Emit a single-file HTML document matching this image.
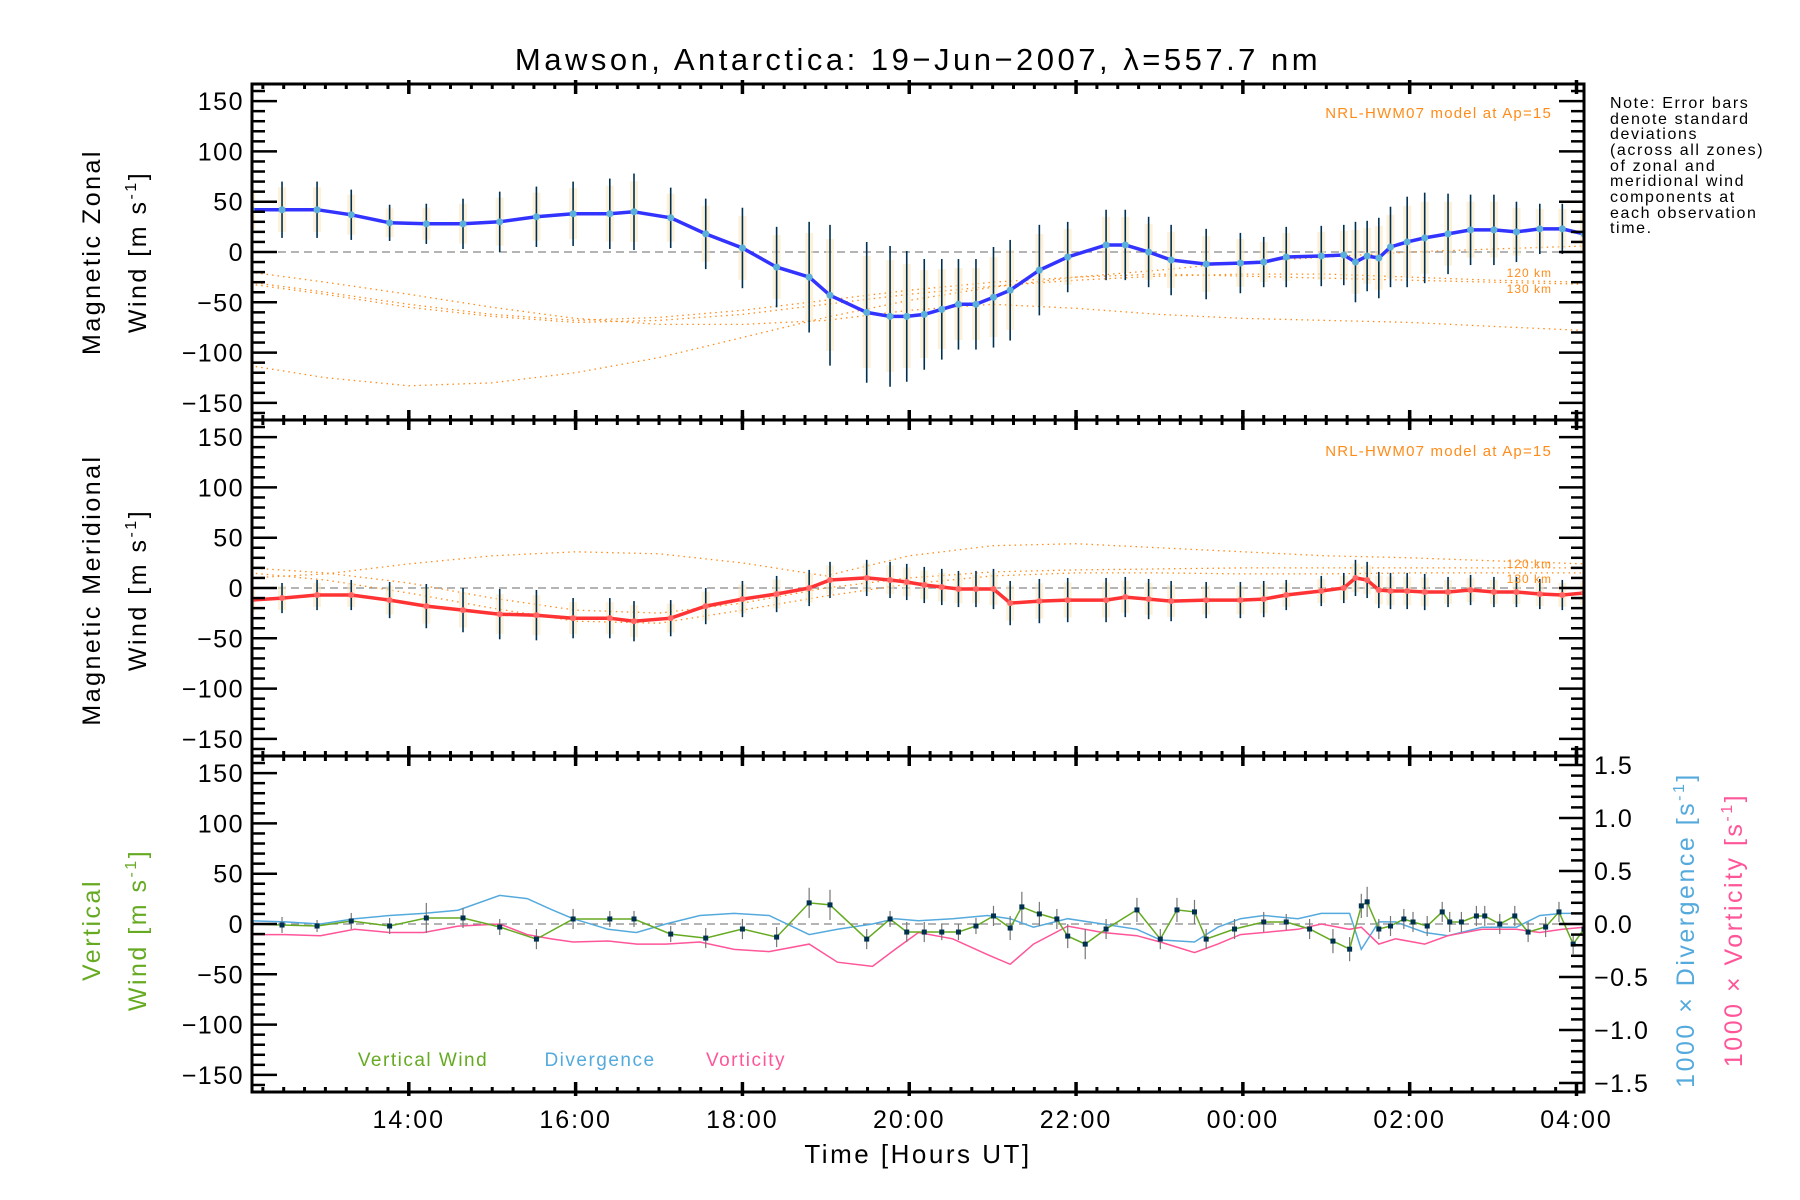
<!DOCTYPE html>
<html><head><meta charset="utf-8"><style>
html,body{margin:0;padding:0;background:#fff;}
svg{display:block;font-family:"Liberation Sans",sans-serif;}
</style></head><body>
<svg id="chart" width="1800" height="1200" viewBox="0 0 1800 1200" xmlns="http://www.w3.org/2000/svg">
<text x="918" y="70" font-size="31" letter-spacing="3.5" text-anchor="middle">Mawson, Antarctica: 19−Jun−2007, λ=557.7 nm</text>
<g font-size="16" letter-spacing="1.6" fill="#000">
<text x="1610" y="108">Note: Error bars</text>
<text x="1610" y="124">denote standard</text>
<text x="1610" y="139">deviations</text>
<text x="1610" y="155">(across all zones)</text>
<text x="1610" y="171">of zonal and</text>
<text x="1610" y="186">meridional wind</text>
<text x="1610" y="202">components at</text>
<text x="1610" y="218">each observation</text>
<text x="1610" y="233">time.</text>
</g>
<text x="918" y="1163" font-size="26" letter-spacing="2.5" text-anchor="middle">Time [Hours UT]</text>
<g font-size="25" letter-spacing="2.5" text-anchor="middle">
<text transform="translate(100,252) rotate(-90)">Magnetic Zonal</text>
<text transform="translate(146,252) rotate(-90)">Wind [m s<tspan font-size="16" dy="-10">-1</tspan><tspan dy="10">]</tspan></text>
</g>
<g font-size="25" letter-spacing="2.5" text-anchor="middle">
<text transform="translate(100,590) rotate(-90)">Magnetic Meridional</text>
<text transform="translate(146,590) rotate(-90)">Wind [m s<tspan font-size="16" dy="-10">-1</tspan><tspan dy="10">]</tspan></text>
</g>
<g font-size="25" letter-spacing="2.5" text-anchor="middle" fill="#66aa22">
<text transform="translate(100,930) rotate(-90)">Vertical</text>
<text transform="translate(146,930) rotate(-90)">Wind [m s<tspan font-size="16" dy="-10">-1</tspan><tspan dy="10">]</tspan></text>
</g>
<text transform="translate(1694,930) rotate(-90)" font-size="25" letter-spacing="2.5" text-anchor="middle" fill="#55aadd">1000 × Divergence [s<tspan font-size="16" dy="-10">-1</tspan><tspan dy="10">]</tspan></text>
<text transform="translate(1742,930) rotate(-90)" font-size="25" letter-spacing="2.5" text-anchor="middle" fill="#ff5599">1000 × Vorticity [s<tspan font-size="16" dy="-10">-1</tspan><tspan dy="10">]</tspan></text>
<text x="423" y="1066" font-size="19" letter-spacing="1.5" text-anchor="middle" fill="#66aa22">Vertical Wind</text>
<text x="600" y="1066" font-size="19" letter-spacing="1.5" text-anchor="middle" fill="#55aadd">Divergence</text>
<text x="746" y="1066" font-size="19" letter-spacing="1.5" text-anchor="middle" fill="#ff5599">Vorticity</text>
</svg>
<script>
// ---- data ----
const obsTimes=[12.11,12.48,12.90,13.31,13.77,14.21,14.65,15.09,15.53,15.97,16.41,16.70,17.14,17.56,18.00,18.41,18.80,19.05,19.49,19.77,19.97,20.18,20.39,20.59,20.80,21.01,21.21,21.56,21.90,22.36,22.59,22.87,23.14,23.56,23.97,24.25,24.52,24.94,25.21,25.35,25.49,25.63,25.77,25.97,26.18,26.46,26.73,27.01,27.28,27.56,27.83,28.09];
const zonalWind=[42,42,42,37,29,28,28,30,35,38,38,40,34,18,4,-15,-25,-43,-60,-64,-64,-62,-57,-52,-52,-45,-38,-18,-5,7,7,0,-8,-12,-11,-10,-5,-4,-3,-10,-4,-6,5,10,14,18,22,22,20,23,23,18];
const zonalErr=[25,28,28,25,18,20,25,30,30,32,35,38,30,35,40,40,55,70,70,70,65,55,50,45,45,50,50,45,35,35,35,35,35,35,30,25,30,30,30,40,35,40,40,45,45,40,35,35,30,25,25,25];
const meridWind=[-12,-10,-7,-7,-12,-18,-22,-26,-27,-30,-30,-33,-30,-18,-11,-6,0,8,10,8,6,3,1,-1,-1,-1,-15,-13,-12,-12,-9,-11,-13,-12,-12,-11,-7,-3,0,10,8,-2,-3,-3,-4,-4,-2,-4,-4,-6,-7,-5];
const meridErr=[15,15,15,15,18,22,22,25,25,20,20,20,18,18,18,18,18,18,18,18,18,18,18,18,18,20,22,22,22,22,20,20,20,18,18,18,15,15,15,18,18,18,18,18,18,15,15,15,15,15,15,15];
const modelTimes=[12.1,13,14,15,16,17,18,19,20,21,22,23,24,25,26,27,28.1];
const zonalModel1=[-30,-40,-52,-62,-68,-65,-58,-48,-38,-30,-25,-22,-24,-26,-28,-30,-32];
const zonalModel2=[-20,-30,-42,-55,-66,-72,-72,-68,-58,-52,-56,-62,-66,-68,-70,-74,-78];
const zonalModel3=[-113,-125,-133,-130,-120,-105,-85,-65,-48,-35,-25,-18,-10,-5,0,3,6];
const zonalModel4=[-32,-42,-55,-64,-70,-68,-62,-52,-42,-34,-28,-24,-22,-22,-25,-28,-30];
const meridModel1=[20,15,5,-10,-22,-25,-15,0,10,16,18,19,20,20,20,20,20];
const meridModel2=[10,14,24,32,36,34,25,12,32,42,44,40,36,32,30,27,24];
const meridModel3=[15,8,-5,-20,-33,-35,-22,-8,4,12,15,15,14,14,15,15,15];
const vertTimes=[12.11,12.48,12.90,13.31,13.77,14.21,14.65,15.09,15.53,15.97,16.41,16.70,17.14,17.56,18.00,18.41,18.80,19.05,19.49,19.77,19.97,20.18,20.39,20.59,20.80,21.01,21.21,21.35,21.56,21.77,21.90,22.11,22.36,22.73,23.01,23.21,23.42,23.56,23.90,24.25,24.52,24.80,25.08,25.28,25.42,25.49,25.63,25.77,25.93,26.04,26.21,26.39,26.48,26.62,26.80,26.90,27.08,27.26,27.42,27.63,27.79,27.96,28.09];
const vertWind=[0,-1,-2,3,-2,6,6,-3,-15,5,5,5,-10,-14,-5,-13,21,19,-15,5,-8,-8,-8,-8,-2,8,-4,17,10,5,-12,-20,-5,14,-15,14,12,-15,-5,2,2,-5,-17,-25,18,22,-5,-2,5,2,-2,12,2,2,8,8,0,8,-8,-3,12,-20,-5];
const vertErr=[5,8,6,8,8,15,10,8,10,10,8,8,8,10,10,10,15,15,10,8,10,10,8,8,8,10,12,15,12,10,12,15,10,12,10,12,12,10,10,10,8,10,12,12,12,15,10,10,10,10,10,10,10,10,10,10,10,10,10,10,10,10,10];
const curlTimes=[12.11,12.52,12.94,13.35,13.77,14.18,14.59,15.09,15.42,15.70,15.97,16.39,16.73,17.08,17.49,17.90,18.32,18.80,19.14,19.56,19.83,20.11,20.52,20.94,21.21,21.49,21.90,22.32,22.73,23.01,23.42,23.70,23.97,24.25,24.66,24.94,25.28,25.42,25.63,25.83,26.18,26.46,26.87,27.28,27.56,27.83,28.09];
const divergence=[0.03,0.02,0,0.05,0.08,0.10,0.13,0.27,0.24,0.14,0.05,-0.05,-0.08,0,0.08,0.10,0.08,-0.10,-0.05,0,0.05,0.03,0.05,0.08,0.05,-0.03,0.05,0,-0.05,-0.15,-0.17,-0.03,0.05,0.08,0.05,0.10,0.10,-0.24,0.02,0.02,-0.08,-0.11,-0.03,-0.03,0.08,0.10,0.10];
const vorticity=[-0.10,-0.10,-0.11,-0.05,-0.08,-0.08,-0.02,0,-0.10,-0.14,-0.17,-0.16,-0.19,-0.19,-0.17,-0.24,-0.26,-0.19,-0.36,-0.40,-0.24,-0.08,-0.14,-0.29,-0.38,-0.19,-0.02,-0.08,-0.11,-0.17,-0.27,-0.19,-0.10,-0.08,-0.05,0,-0.05,-0.03,-0.19,-0.14,-0.19,-0.11,-0.05,-0.05,-0.08,-0.05,-0.03];
const yTicks=[-150,-100,-50,0,50,100,150];
const yTickLabels=["−150","−100","−50","0","50","100","150"];
const rTicks=[-1.5,-1,-0.5,0,0.5,1,1.5];
const rTickLabels=["−1.5","−1.0","−0.5","0.0","0.5","1.0","1.5"];
const xTicks=[14,16,18,20,22,24,26,28];
const xTickLabels=["14:00","16:00","18:00","20:00","22:00","00:00","02:00","04:00"];

// ---- layout ----
const NS="http://www.w3.org/2000/svg";
const svg=document.getElementById('chart');
const L=252,R=1584,T0=12.12,T1=28.09;
const panels=[{top:84,bot:420},{top:420,bot:756},{top:756,bot:1092}];
const YMAX=167;
function x(t){return L+(t-T0)/(T1-T0)*(R-L);}
function yP(p,v){const P=panels[p];const c=(P.top+P.bot)/2;return c-v*(P.bot-P.top)/2/YMAX;}
function yR(v){return 924-v*106;}
function mk(tag,attrs,parent){const e=document.createElementNS(NS,tag);for(const k in attrs)e.setAttribute(k,attrs[k]);(parent||svg).appendChild(e);return e;}
function poly(ts,vs,fy,attrs,name,parent){
  const pts=ts.map((t,i)=>x(t).toFixed(1)+','+fy(vs[i]).toFixed(1)).join(' ');
  const e=mk('polyline',Object.assign({points:pts,fill:'none'},attrs),parent);
  
  
  return e;
}
const defs=mk('defs',{});
panels.forEach((P,i)=>{const cp=mk('clipPath',{id:'clip'+i},defs);mk('rect',{x:L,y:P.top,width:R-L,height:P.bot-P.top},cp);});

function panelGroup(i,name){const g=mk('g',{'clip-path':'url(#clip'+i+')'});return g;}

panels.forEach((P,i)=>{const l=mk('line',{x1:L,x2:R,y1:yP(i,0),y2:yP(i,0),stroke:'#888','stroke-width':1.3,'stroke-dasharray':'8,5'});

});

const g1=panelGroup(0,'zonal-panel');
const fy0=v=>yP(0,v);
[zonalModel1,zonalModel2,zonalModel3,zonalModel4].forEach((m,k)=>poly(modelTimes,m,fy0,{stroke:'#ff8c1a','stroke-width':1.3,'stroke-dasharray':'1.5,4'},'zonal-model-'+(k+1),g1));
obsTimes.forEach((t,i)=>{
  const r=mk('rect',{x:x(t)-4,y:fy0(zonalWind[i]+zonalErr[i]*0.8),width:8,height:zonalErr[i]*1.6,fill:'#fbe8c0',opacity:0.6},g1);
  
  
  const e=mk('line',{x1:x(t),x2:x(t),y1:fy0(zonalWind[i]-zonalErr[i]),y2:fy0(zonalWind[i]+zonalErr[i]),stroke:'#003050','stroke-width':1.6},g1);
  
  
});
poly(obsTimes,zonalWind,fy0,{stroke:'#3333ff','stroke-width':3.5},'zonal-wind-line',g1);
obsTimes.forEach((t,i)=>{const c=mk('circle',{cx:x(t),cy:fy0(zonalWind[i]),r:3.5,fill:'#5ab0d8'},g1);

});

const g2=panelGroup(1,'meridional-panel');
const fy1=v=>yP(1,v);
[meridModel1,meridModel2,meridModel3].forEach((m,k)=>poly(modelTimes,m,fy1,{stroke:'#ff8c1a','stroke-width':1.3,'stroke-dasharray':'1.5,4'},'meridional-model-'+(k+1),g2));
obsTimes.forEach((t,i)=>{
  const r=mk('rect',{x:x(t)-4,y:fy1(meridWind[i]+meridErr[i]*0.8),width:8,height:meridErr[i]*1.6,fill:'#fbe8c0',opacity:0.6},g2);
  
  
  const e=mk('line',{x1:x(t),x2:x(t),y1:fy1(meridWind[i]-meridErr[i]),y2:fy1(meridWind[i]+meridErr[i]),stroke:'#003050','stroke-width':1.6},g2);
  
  
});
poly(obsTimes,meridWind,fy1,{stroke:'#ff3333','stroke-width':3.5},'meridional-wind-line',g2);
obsTimes.forEach((t,i)=>{const c=mk('circle',{cx:x(t),cy:fy1(meridWind[i]),r:3,fill:'#ff6666'},g2);

});

const g3=panelGroup(2,'vertical-panel');
const fy2=v=>yP(2,v);
poly(curlTimes,divergence,yR,{stroke:'#55aadd','stroke-width':1.5},'divergence-line',g3);
poly(curlTimes,vorticity,yR,{stroke:'#ff5599','stroke-width':1.5},'vorticity-line',g3);
vertTimes.forEach((t,i)=>{const e=mk('line',{x1:x(t),x2:x(t),y1:fy2(vertWind[i]-vertErr[i]),y2:fy2(vertWind[i]+vertErr[i]),stroke:'#777','stroke-width':1.2},g3);

});
poly(vertTimes,vertWind,fy2,{stroke:'#66aa22','stroke-width':1.5},'vertical-wind-line',g3);
vertTimes.forEach((t,i)=>{const c=mk('rect',{x:x(t)-2.5,y:fy2(vertWind[i])-2.5,width:5,height:5,fill:'#003050'},g3);

});

const ax=mk('g',{stroke:'#000',fill:'none'});


panels.forEach((P,i)=>{
  mk('rect',{x:L,y:P.top,width:R-L,height:P.bot-P.top,'stroke-width':3},ax);
  for(let v=-160;v<=160;v+=10){const yy=yP(i,v);const major=v%50===0;const len=major?25:13;
    mk('line',{x1:L,x2:L+len,y1:yy,y2:yy,'stroke-width':2.5},ax);
    if(i<2)mk('line',{x1:R-len,x2:R,y1:yy,y2:yy,'stroke-width':2.5},ax);}
  for(let t=12.25;t<=28.1;t+=0.25){const xx=x(t);const major=Math.abs(t%2)<0.01;const len=major?10:5;
    mk('line',{x1:xx,x2:xx,y1:P.top-(major?4:0),y2:P.top+len,'stroke-width':major?3.5:3},ax);
    mk('line',{x1:xx,x2:xx,y1:P.bot-len,y2:P.bot+(major?4:0),'stroke-width':major?3.5:3},ax);}
});
for(let k=-15;k<=15;k++){const v=k/10;const yy=yR(v);const major=k%5===0;const len=major?25:13;
  mk('line',{x1:R-len,x2:R,y1:yy,y2:yy,'stroke-width':2.5},ax);}
panels.forEach((P,i)=>{yTicks.forEach((v,k)=>{const t=mk('text',{x:244,y:yP(i,v)+9,'font-size':25,'letter-spacing':1.5,'text-anchor':'end',fill:'#000'});


t.textContent=yTickLabels[k];});});
rTicks.forEach((v,k)=>{const t=mk('text',{x:1594,y:yR(v)+9,'font-size':25,'letter-spacing':1.5,'text-anchor':'start',fill:'#000'});


t.textContent=rTickLabels[k];});
xTicks.forEach((v,k)=>{const t=mk('text',{x:x(v),y:1128,'font-size':25,'letter-spacing':2,'text-anchor':'middle',fill:'#000'});


t.textContent=xTickLabels[k];});
[[0,112],[1,450]].forEach(([i,yy])=>{const t=mk('text',{x:1552,y:yy+6,'font-size':15,'letter-spacing':1.2,'text-anchor':'end',fill:'#ff8c1a'});


t.textContent='NRL-HWM07 model at Ap=15';});
[[277,'120 km'],[293,'130 km'],[568,'120 km'],[583,'130 km']].forEach(([yy,s])=>{const t=mk('text',{x:1552,y:yy,'font-size':12,'letter-spacing':1,'text-anchor':'end',fill:'#ff8c1a'});


t.textContent=s;});
</script>
</body></html>
